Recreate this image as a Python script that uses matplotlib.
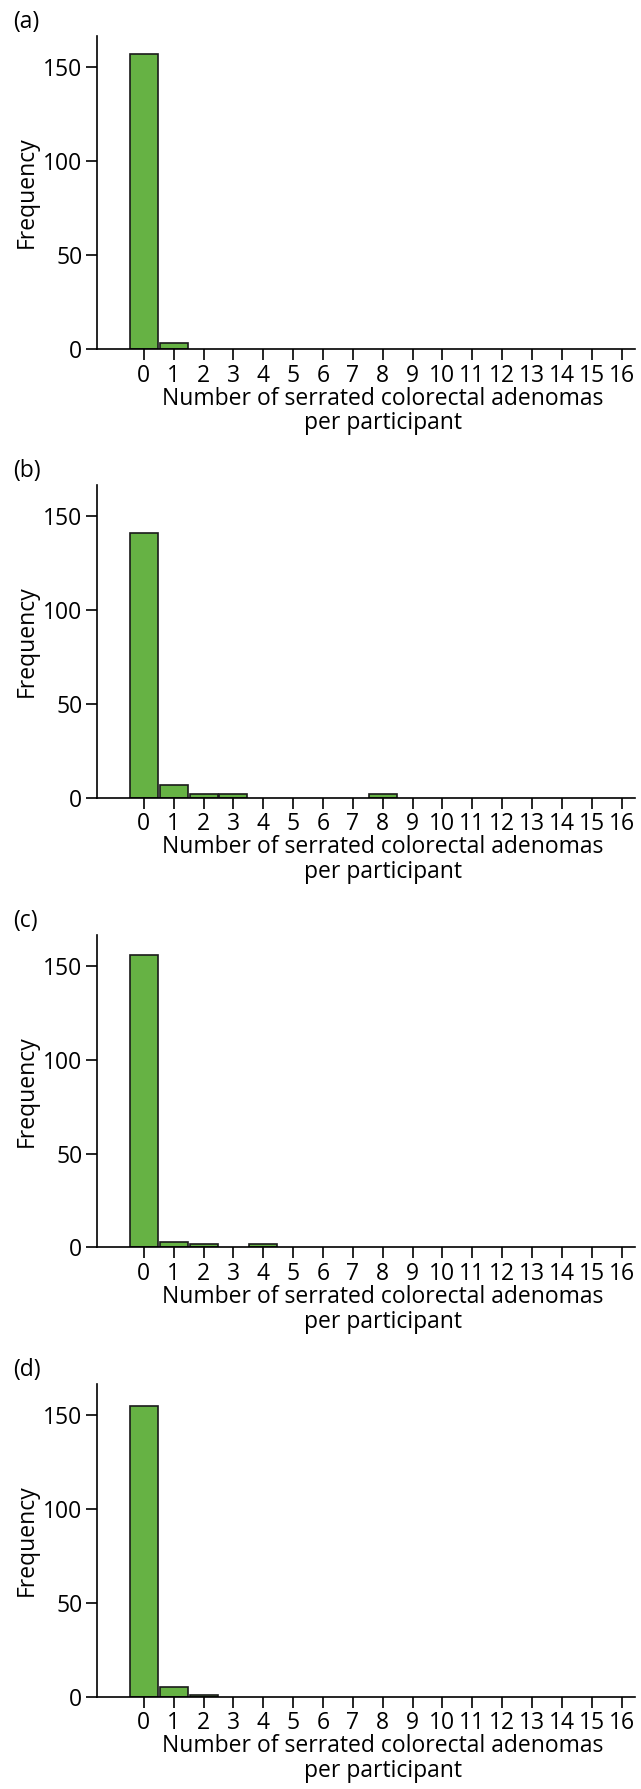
import matplotlib
matplotlib.use("Agg")
import matplotlib.pyplot as plt
import numpy as np

plt.rcParams['font.family'] = ['Open Sans', 'DejaVu Sans']

# number of serrated adenomas per participant: 0..16
counts = list(range(17))
freq_a = [157, 3, 0, 0, 0, 0, 0, 0, 0, 0, 0, 0, 0, 0, 0, 0, 0]
freq_b = [141, 7, 2, 2, 0, 0, 0, 0, 2, 0, 0, 0, 0, 0, 0, 0, 0]
freq_c = [156, 3, 2, 0, 2, 0, 0, 0, 0, 0, 0, 0, 0, 0, 0, 0, 0]
freq_d = [155, 5, 1, 0, 0, 0, 0, 0, 0, 0, 0, 0, 0, 0, 0, 0, 0]
panel_labels = ['(a)', '(b)', '(c)', '(d)']
yticks = [0, 50, 100, 150]
xlab = 'Number of serrated colorectal adenomas\nper participant'

W, H = 641, 1789
fig = plt.figure(figsize=(W / 100, H / 100), dpi=100)

# pixel positions of each panel (top, bottom of plotting area)
tops = [36, 485, 935, 1384]
bottoms = [349, 797.7, 1247.3, 1696.7]
left, right = 97, 635

green = '#66b244'
fs = 16.5

for lab, freq, top, bot in zip(panel_labels, [freq_a, freq_b, freq_c, freq_d], tops, bottoms):
    ax = fig.add_axes([left / W, (H - bot) / H, (right - left) / W, (bot - top) / H])
    x = np.array(counts)
    y = np.array(freq)
    m = y > 0
    ax.bar(x[m], y[m], width=0.94, color=green, edgecolor='#1a1a1a', linewidth=1.2)
    ax.set_xlim(-1.57, 16.45)
    ax.set_ylim(0, 166.5)
    ax.set_xticks(counts)
    ax.set_yticks(yticks)
    for s in ['top', 'right']:
        ax.spines[s].set_visible(False)
    for s in ['left', 'bottom']:
        ax.spines[s].set_linewidth(1.2)
    ax.tick_params(direction='out', length=8, width=1.2, labelsize=fs, pad=2.5)
    ax.set_ylabel('Frequency', fontsize=fs, labelpad=3)
    ax.set_xlabel(xlab, fontsize=fs, linespacing=1.05, labelpad=0)
    ax.xaxis.set_label_coords((383 - left) / (right - left), -0.12, transform=ax.transAxes)
    ax.xaxis.label.set_va('top')
    fig.text(13 / W, 1 - (top - 14) / H, lab, fontsize=fs, va='center', ha='left')

fig.savefig('out.png', dpi=100)
